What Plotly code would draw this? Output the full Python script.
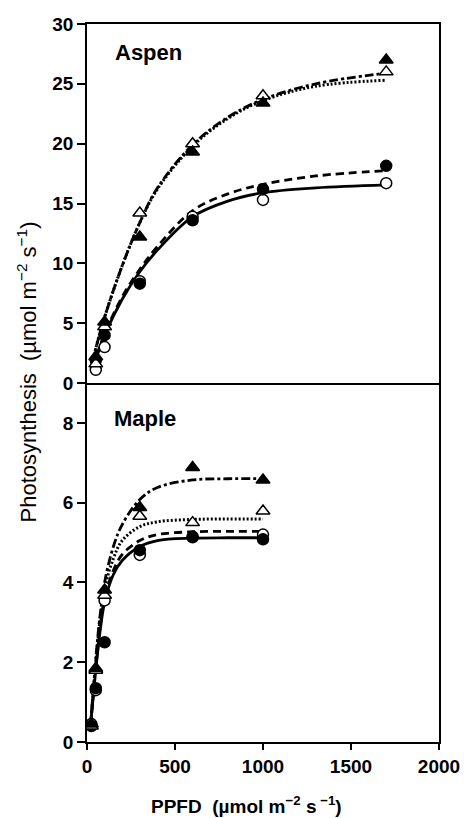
import plotly.graph_objects as go

# ---------- data ----------
# Aspen (top panel) measured points
aspen_x = [50, 100, 300, 600, 1000, 1700]
aspen_open_circle = [1.1, 3.0, 8.5, 13.9, 15.3, 16.7]
aspen_filled_circle = [1.9, 4.0, 8.3, 13.6, 16.2, 18.15]
aspen_open_triangle = [1.6, 4.7, 14.2, 20.0, 24.0, 26.0]
aspen_filled_triangle = [2.2, 5.1, 12.2, 19.3, 23.4, 27.0]

# Aspen fitted curves
aspen_fit_x = [30, 50, 100, 200, 300, 400, 600, 800, 1000, 1300, 1700]
aspen_fit_solid = [1.2, 2.0, 4.0, 7.0, 9.3, 11.1, 13.9, 15.2, 15.9, 16.3, 16.55]
aspen_fit_dash = [1.3, 2.1, 4.1, 7.2, 9.5, 11.4, 14.4, 15.8, 16.6, 17.3, 17.75]
aspen_fit_dot = [1.7, 2.9, 5.5, 9.8, 13.4, 16.2, 19.8, 22.1, 23.6, 24.8, 25.3]
aspen_fit_dashdot = [1.7, 2.9, 5.5, 9.8, 13.4, 16.3, 19.9, 22.2, 23.7, 25.0, 25.9]

# Maple (bottom panel) measured points
maple_x = [25, 50, 100, 300, 600, 1000]
maple_open_circle = [0.45, 1.3, 3.55, 4.69, 5.15, 5.2]
maple_filled_circle = [0.4, 1.35, 2.5, 4.81, 5.13, 5.08]
maple_open_triangle = [0.4, 1.8, 3.68, 5.66, 5.5, 5.79]
maple_filled_triangle = [0.45, 1.85, 3.81, 5.88, 6.88, 6.57]

# Maple fitted curves
maple_fit_x = [20, 50, 75, 100, 150, 200, 300, 400, 600, 800, 1000]
maple_fit_solid = [0.4, 1.8, 2.8, 3.5, 4.2, 4.55, 4.9, 5.05, 5.11, 5.12, 5.12]
maple_fit_dash = [0.4, 1.85, 2.9, 3.6, 4.3, 4.7, 5.05, 5.2, 5.27, 5.28, 5.28]
maple_fit_dot = [0.4, 2.0, 3.1, 3.85, 4.6, 5.05, 5.4, 5.52, 5.58, 5.59, 5.59]
maple_fit_dashdot = [0.4, 2.1, 3.2, 4.0, 4.9, 5.45, 6.08, 6.38, 6.57, 6.6, 6.6]

x_ticks = [0, 500, 1000, 1500, 2000]
aspen_ticks = [0, 5, 10, 15, 20, 25, 30]
maple_ticks = [0, 2, 4, 6, 8]

# ---------- figure ----------
fig = go.Figure()
FONT = "Liberation Sans"

LINE_STYLES = {
    "dot": dict(dash="2px,2px", width=3.0),
    "dashdot": dict(dash="9px,3px,3px,3px", width=2.8),
    "dash": dict(dash="8px,5px", width=2.8),
    "solid": dict(dash="solid", width=2.8),
}


def add_curves(xs, solid, dash, dot, dashdot, xa, ya):
    for ys, d in [(dot, "dot"), (dashdot, "dashdot"), (dash, "dash"), (solid, "solid")]:
        st = LINE_STYLES[d]
        fig.add_trace(go.Scatter(x=xs, y=ys, mode="lines", xaxis=xa, yaxis=ya,
                                 line=dict(color="black", width=st["width"], dash=st["dash"], shape="spline"),
                                 showlegend=False, hoverinfo="skip"))


def add_points(xs, oc, fc, ot, ft, xa, ya):
    specs = [(oc, "circle", "white", 11), (fc, "circle", "black", 11),
             (ot, "triangle-up", "white", 12), (ft, "triangle-up", "black", 12)]
    for ys, sym, col, sz in specs:
        fig.add_trace(go.Scatter(x=xs, y=ys, mode="markers", xaxis=xa, yaxis=ya,
                                 marker=dict(symbol=sym, size=sz, color=col,
                                             line=dict(color="black", width=1.5)),
                                 showlegend=False))


add_curves(aspen_fit_x, aspen_fit_solid, aspen_fit_dash, aspen_fit_dot, aspen_fit_dashdot, "x2", "y2")
add_points(aspen_x, aspen_open_circle, aspen_filled_circle, aspen_open_triangle, aspen_filled_triangle, "x2", "y2")
add_curves(maple_fit_x, maple_fit_solid, maple_fit_dash, maple_fit_dot, maple_fit_dashdot, "x", "y")
add_points(maple_x, maple_open_circle, maple_filled_circle, maple_open_triangle, maple_filled_triangle, "x", "y")

tickfont = dict(family=FONT, size=19, color="black", weight="bold")
axis_common = dict(showline=True, linecolor="black", linewidth=1.5,
                   showgrid=False, zeroline=False, tickfont=tickfont,
                   tickcolor="black", tickwidth=1.5)

fig.update_layout(
    width=472, height=818,
    margin=dict(l=87, r=25, t=24, b=76),
    plot_bgcolor="white", paper_bgcolor="white",
    xaxis=dict(domain=[0, 1], range=[0, 2000], tickvals=x_ticks, ticks="outside",
               ticklen=6, anchor="y", mirror=False, **axis_common),
    yaxis=dict(domain=[0, 0.5], range=[0, 9], tickvals=maple_ticks, ticks="outside",
               ticklen=8, anchor="x", mirror=True, **axis_common),
    xaxis2=dict(domain=[0, 1], range=[0, 2000], tickvals=x_ticks, ticks="",
                showticklabels=False, anchor="y2", mirror=True, **axis_common),
    yaxis2=dict(domain=[0.5, 1], range=[0, 30], tickvals=aspen_ticks, ticks="outside",
                ticklen=8, anchor="x2", mirror=True, **axis_common),
    annotations=[
        dict(text="Aspen", xref="paper", yref="paper", x=0.075, y=0.961,
             xanchor="left", yanchor="middle", showarrow=False,
             font=dict(family=FONT, size=22, color="black", weight="bold")),
        dict(text="Maple", xref="paper", yref="paper", x=0.070, y=0.451,
             xanchor="left", yanchor="middle", showarrow=False,
             font=dict(family=FONT, size=22, color="black", weight="bold")),
        dict(text="Photosynthesis  (µmol m<sup>−2</sup> s<sup>−1</sup>)", xref="paper", yref="paper",
             x=-0.17, y=0.515, xanchor="center", yanchor="middle", textangle=-90,
             showarrow=False, font=dict(family=FONT, size=22, color="black")),
        dict(text="PPFD  (µmol m<sup>−2</sup> s<sup> −1</sup>)", xref="paper", yref="paper",
             x=0.453, y=-0.088, xanchor="center", yanchor="middle",
             showarrow=False, font=dict(family=FONT, size=19, color="black", weight="bold")),
    ],
)

fig.write_html("out.html")
